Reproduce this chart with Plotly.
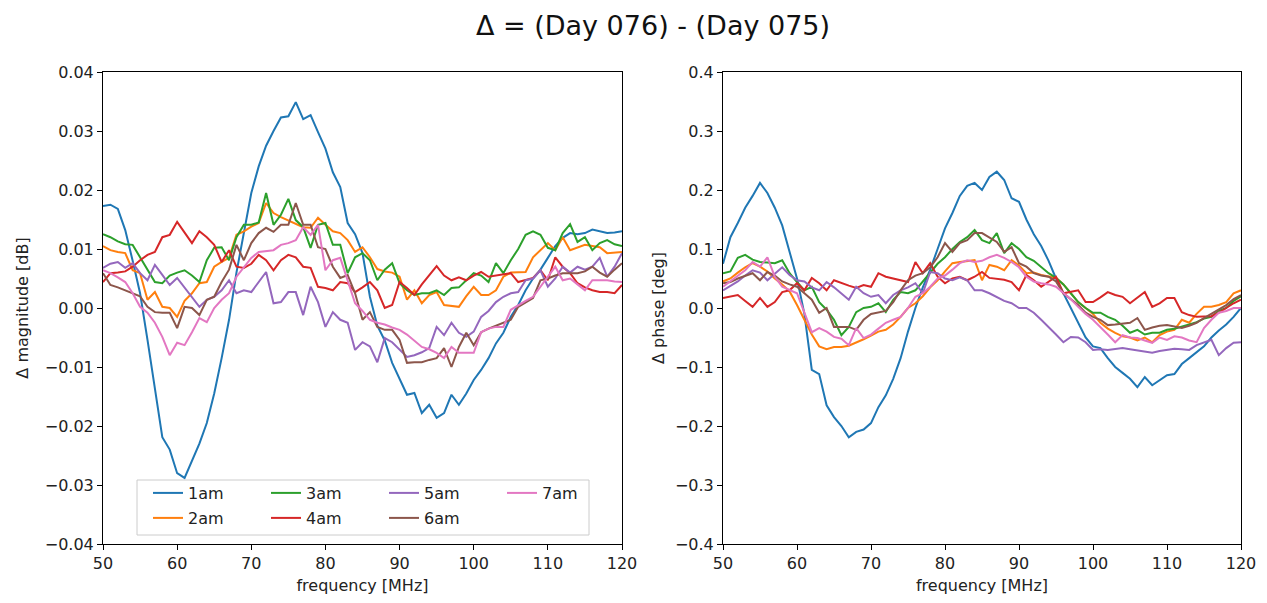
import plotly.graph_objects as go
from plotly.subplots import make_subplots

freq = list(range(50, 121))
labels = ["1am", "2am", "3am", "4am", "5am", "6am", "7am"]
colors = ["#1f77b4", "#ff7f0e", "#2ca02c", "#d62728", "#9467bd", "#8c564b", "#e377c2"]

# Δ magnitude [dB]
mag_1am = [0.0173, 0.0175, 0.0168, 0.0132, 0.008, 0.0025, -0.0054, -0.0135, -0.0219, -0.024,
           -0.028, -0.0288, -0.026, -0.023, -0.0195, -0.0145, -0.0085, -0.002, 0.006, 0.0125,
           0.0195, 0.024, 0.0275, 0.03, 0.0323, 0.0325, 0.0349, 0.032, 0.0327, 0.0298,
           0.027, 0.023, 0.0205, 0.0144, 0.0125, 0.0093, 0.0019, -0.003, -0.0055, -0.0093,
           -0.012, -0.0147, -0.0144, -0.0178, -0.0164, -0.0186, -0.0178, -0.0147, -0.0164, -0.0145,
           -0.0122, -0.0105, -0.0085, -0.006, -0.0042, -0.0015, 0.0005, 0.003, 0.005, 0.0065,
           0.0085, 0.0105, 0.0119, 0.0127, 0.0125, 0.0127, 0.0133, 0.013, 0.0127, 0.0128, 0.013]
mag_2am = [0.0105, 0.0098, 0.0095, 0.0093, 0.0064, 0.0059, 0.0014, 0.0027, 0.0002, 0.0,
           -0.0015, 0.0012, 0.0025, 0.0042, 0.0044, 0.007, 0.0078, 0.0085, 0.0124, 0.013,
           0.0138, 0.0144, 0.0178, 0.0161, 0.0154, 0.0148, 0.0142, 0.0137, 0.0136, 0.0153,
           0.0141, 0.013, 0.0127, 0.0115, 0.0095, 0.0103, 0.0086, 0.0066, 0.0062, 0.006,
           0.0053, 0.0014, 0.003, 0.0008, 0.0022, 0.0027, 0.0005, 0.0003, 0.0002, 0.002,
           0.0036, 0.0022, 0.0022, 0.003, 0.0053, 0.006, 0.0061, 0.0061, 0.0086, 0.0098,
           0.011, 0.0098, 0.012, 0.0098, 0.0102, 0.0107, 0.0105, 0.0103, 0.0093, 0.0094, 0.0095]
mag_3am = [0.0125, 0.012, 0.0113, 0.0108, 0.0107, 0.0086, 0.0064, 0.0044, 0.0042, 0.0055,
           0.006, 0.0064, 0.0055, 0.0044, 0.0081, 0.0102, 0.0103, 0.0081, 0.012, 0.0141,
           0.0141, 0.0145, 0.0195, 0.0141, 0.0158, 0.0185, 0.0149, 0.0137, 0.0102, 0.0141,
           0.0144, 0.0107, 0.0107, 0.0059, 0.0086, 0.0093, 0.0081, 0.0047, 0.0065, 0.0076,
           0.0042, 0.003, 0.0022, 0.0025, 0.0025, 0.003, 0.0022, 0.0034, 0.0035, 0.0047,
           0.0059, 0.0055, 0.0044, 0.0076, 0.0059, 0.0081, 0.01, 0.0124, 0.013, 0.0124,
           0.0102, 0.0098, 0.0127, 0.0142, 0.0112, 0.012, 0.0098, 0.011, 0.0115, 0.0108, 0.0105]
mag_4am = [0.0044, 0.0059, 0.006, 0.0062, 0.007, 0.0081, 0.009, 0.0095, 0.012, 0.0124,
           0.0146, 0.0129, 0.011, 0.013, 0.012, 0.0107, 0.0078, 0.0098, 0.007, 0.0068,
           0.0075, 0.009, 0.0081, 0.0064, 0.0081, 0.009, 0.0086, 0.007, 0.0068, 0.0036,
           0.0034, 0.003, 0.0044, 0.0042, 0.0027, 0.0035, 0.0044, 0.003, 0.0, 0.0005,
           0.0044, 0.0034, 0.0022, 0.004, 0.0055, 0.0071, 0.0055, 0.0047, 0.0052, 0.0047,
           0.0055, 0.0061, 0.0053, 0.0055, 0.0057, 0.0059, 0.0044, 0.0048, 0.0051, 0.0064,
           0.0047, 0.0086, 0.007, 0.0059, 0.0042, 0.0035, 0.003, 0.0027, 0.0027, 0.0025, 0.0039]
mag_5am = [0.0068, 0.0075, 0.0078, 0.0068, 0.0076, 0.0059, 0.0047, 0.0073, 0.0056, 0.0039,
           0.0051, 0.0035, 0.0019, 0.0002, 0.0014, 0.0019, 0.003, 0.0047, 0.0025, 0.003,
           0.0027, 0.0044, 0.0061, 0.0008, 0.001, 0.0027, 0.0027, -0.0012, 0.0036, 0.001,
           -0.0032, -0.0007, -0.002, -0.0025, -0.0071, -0.0058, -0.0065, -0.0092, -0.0051, -0.0058,
           -0.007, -0.0083, -0.008, -0.0075, -0.0068, -0.0032, -0.0046, -0.0025, -0.0042, -0.0049,
           -0.004, -0.0015, -0.0005, 0.001, 0.0019, 0.0025, 0.0027, 0.0047, 0.005, 0.0064,
           0.0036, 0.005, 0.007, 0.006, 0.007, 0.0065, 0.007, 0.0085, 0.0053, 0.007, 0.0093]
mag_6am = [0.0059, 0.0039, 0.0035, 0.003, 0.0025, 0.002, 0.0002, -0.0007, -0.0008, -0.0008,
           -0.0034, 0.0002, 0.0, -0.0012, 0.0014, 0.0019, 0.0044, 0.0065, 0.0107, 0.0081,
           0.011, 0.0127, 0.0136, 0.0129, 0.0141, 0.0141, 0.0178, 0.0141, 0.0141, 0.0103,
           0.01, 0.007, 0.0051, 0.0056, 0.0025, -0.002, -0.0007, -0.0032, -0.0037, -0.0037,
           -0.0054, -0.0093, -0.0092, -0.0092, -0.0088, -0.0085, -0.0068, -0.01, -0.0066, -0.0042,
           -0.0063, -0.0041, -0.0035, -0.003, -0.0024, -0.002, 0.0002, 0.001, 0.0017, 0.0047,
           0.005, 0.0055, 0.0059, 0.0059, 0.0059, 0.0062, 0.007, 0.006, 0.0053, 0.0065, 0.0076]
mag_7am = [0.0064, 0.0059, 0.0052, 0.0044, 0.0025, 0.0002, -0.0008, -0.0025, -0.0049, -0.008,
           -0.0059, -0.0063, -0.0041, -0.0017, -0.0024, 0.0, 0.0014, 0.0025, 0.0053, 0.007,
           0.0085, 0.0095, 0.0097, 0.0098, 0.0107, 0.011, 0.0115, 0.0137, 0.0124, 0.0141,
           0.0064, 0.0081, 0.0085, 0.0047, 0.0008, -0.0005, -0.002, -0.0025, -0.0028, -0.0033,
           -0.0037, -0.0045, -0.0055, -0.0066, -0.007, -0.0076, -0.0085, -0.0066, -0.0076, -0.0076,
           -0.0076, -0.0041, -0.0035, -0.0032, -0.0032, -0.0003, 0.0005, 0.0012, 0.0019, 0.0036,
           0.0055, 0.007, 0.0047, 0.005, 0.004, 0.003, 0.0047, 0.0047, 0.0047, 0.0045, 0.0044]

# Δ phase [deg]
ph_1am = [0.075, 0.12, 0.144, 0.17, 0.19, 0.212, 0.195, 0.17, 0.14, 0.095,
          0.05, -0.01, -0.105, -0.112, -0.165, -0.185, -0.2, -0.219, -0.21, -0.206,
          -0.195, -0.168, -0.148, -0.12, -0.085, -0.04, 0.0, 0.035, 0.065, 0.1,
          0.135, 0.161, 0.19, 0.207, 0.212, 0.2, 0.222, 0.231, 0.217, 0.186,
          0.18, 0.15, 0.125, 0.105, 0.08, 0.05, 0.025, 0.0, -0.025, -0.05,
          -0.065, -0.068, -0.085, -0.1, -0.11, -0.12, -0.134, -0.117, -0.131, -0.122,
          -0.114, -0.112, -0.095, -0.085, -0.075, -0.065, -0.05, -0.038, -0.028, -0.015, 0.0]
ph_2am = [0.045, 0.05, 0.06, 0.069, 0.076, 0.07, 0.062, 0.05, 0.04, 0.028,
          0.005, -0.02, -0.045, -0.065, -0.07, -0.066, -0.066, -0.064, -0.059, -0.053,
          -0.047, -0.04, -0.037, -0.028, -0.015, 0.0, 0.008, 0.02, 0.035, 0.047,
          0.062, 0.076, 0.078, 0.08, 0.081, 0.047, 0.073, 0.07, 0.064, 0.081,
          0.072, 0.059, 0.06, 0.056, 0.053, 0.051, 0.04, 0.025, 0.01, 0.0,
          -0.01, -0.025, -0.035, -0.042, -0.048, -0.05, -0.055, -0.05, -0.058, -0.046,
          -0.04, -0.037, -0.02, -0.025, -0.01, 0.002, 0.002, 0.005, 0.01, 0.025, 0.03]
ph_3am = [0.059, 0.062, 0.085, 0.09, 0.082, 0.078, 0.077, 0.076, 0.081, 0.059,
          0.044, 0.03, 0.036, 0.01, -0.003, -0.02, -0.046, -0.032, -0.007, 0.0,
          0.002, 0.008, -0.007, 0.014, 0.027, 0.025, 0.03, 0.045, 0.059, 0.075,
          0.086, 0.1, 0.112, 0.12, 0.132, 0.115, 0.11, 0.127, 0.093, 0.11,
          0.1, 0.086, 0.08, 0.07, 0.059, 0.051, 0.04, 0.025, 0.01, 0.0,
          -0.008, -0.008, -0.015, -0.02, -0.03, -0.042, -0.037, -0.045, -0.042, -0.042,
          -0.037, -0.035, -0.032, -0.028, -0.024, -0.018, -0.015, -0.005, 0.0, 0.012, 0.02]
ph_4am = [0.017, 0.02, 0.022, 0.012, 0.002, 0.017, 0.002, 0.01, 0.027, 0.03,
          0.042, 0.03, 0.051, 0.042, 0.03, 0.047, 0.042, 0.038, 0.034, 0.039,
          0.036, 0.059, 0.053, 0.05, 0.047, 0.044, 0.078, 0.059, 0.076, 0.053,
          0.042, 0.05, 0.053, 0.047, 0.053, 0.061, 0.051, 0.05, 0.048, 0.044,
          0.03, 0.056, 0.047, 0.036, 0.045, 0.053, 0.025, 0.028, 0.03, 0.01,
          0.01, 0.018, 0.027, 0.022, 0.019, 0.008, 0.018, 0.027, 0.002, 0.008,
          0.017, 0.017, -0.007, -0.012, -0.015, -0.015, -0.014, -0.008, 0.0, 0.008, 0.014]
ph_5am = [0.03, 0.038, 0.045, 0.055, 0.064, 0.06, 0.047, 0.058, 0.069, 0.056,
          0.047, 0.045, 0.035, 0.03, 0.044, 0.035, 0.025, 0.014, 0.036, 0.025,
          0.019, 0.022, 0.008, 0.022, 0.03, 0.035, 0.042, 0.025, 0.061, 0.059,
          0.05, 0.047, 0.052, 0.047, 0.03, 0.03, 0.025, 0.019, 0.012, 0.008,
          0.0, 0.0, -0.008, -0.02, -0.032, -0.045, -0.058, -0.049, -0.05, -0.058,
          -0.071, -0.07, -0.071, -0.07, -0.068, -0.07, -0.072, -0.074, -0.076, -0.073,
          -0.071, -0.069, -0.07, -0.071, -0.063, -0.058, -0.054, -0.08, -0.068, -0.059, -0.058]
ph_6am = [0.042, 0.044, 0.05, 0.055, 0.059, 0.047, 0.061, 0.055, 0.045, 0.04,
          0.036, 0.025, 0.014, -0.008, 0.0, -0.032, -0.032, -0.032, -0.037, -0.02,
          -0.01, -0.008, -0.005, 0.01, 0.03, 0.047, 0.055, 0.059, 0.069, 0.086,
          0.11, 0.095, 0.11, 0.115, 0.127, 0.127, 0.119, 0.112, 0.095, 0.103,
          0.076, 0.07, 0.059, 0.055, 0.053, 0.045, 0.025, 0.015, 0.005, -0.008,
          -0.015, -0.02, -0.029, -0.028, -0.027, -0.025, -0.017, -0.037, -0.033, -0.03,
          -0.029, -0.032, -0.034, -0.03, -0.025, -0.017, -0.01, -0.003, 0.005, 0.015, 0.022]
ph_7am = [0.036, 0.045, 0.055, 0.064, 0.078, 0.07, 0.086, 0.053, 0.036, 0.03,
          0.025, -0.008, -0.041, -0.034, -0.04, -0.049, -0.052, -0.063, -0.034, -0.051,
          -0.045, -0.035, -0.025, -0.02, -0.015, 0.0, 0.019, 0.025, 0.036, 0.05,
          0.055, 0.065, 0.076, 0.081, 0.078, 0.08, 0.086, 0.09, 0.085, 0.078,
          0.069, 0.053, 0.045, 0.042, 0.04, 0.036, 0.025, 0.015, 0.002, -0.01,
          -0.02, -0.032, -0.045, -0.058, -0.046, -0.05, -0.051, -0.055, -0.059, -0.05,
          -0.054, -0.048, -0.05, -0.055, -0.058, -0.034, -0.02, -0.008, -0.005, 0.0, 0.0]

mag_series = [mag_1am, mag_2am, mag_3am, mag_4am, mag_5am, mag_6am, mag_7am]
ph_series = [ph_1am, ph_2am, ph_3am, ph_4am, ph_5am, ph_6am, ph_7am]

# legend rows (matplotlib column-major layout): row 1 = 1am,3am,5am,7am; row 2 = 2am,4am,6am
legend_of = ["legend", "legend2", "legend", "legend2", "legend", "legend2", "legend"]

x_ticks = [50, 60, 70, 80, 90, 100, 110, 120]
mag_ticks = [0.04, 0.03, 0.02, 0.01, 0.0, -0.01, -0.02, -0.03, -0.04]
mag_ticktext = ["0.04", "0.03", "0.02", "0.01", "0.00", "\u22120.01", "\u22120.02", "\u22120.03", "\u22120.04"]
ph_ticks = [0.4, 0.3, 0.2, 0.1, 0.0, -0.1, -0.2, -0.3, -0.4]
ph_ticktext = ["0.4", "0.3", "0.2", "0.1", "0.0", "\u22120.1", "\u22120.2", "\u22120.3", "\u22120.4"]

# page body has an 8px margin; figure is laid out in screen pixels minus that offset
OFF = 8
W, H = 1267 - OFF, 603 - OFF
ml, mt = 103 - OFF, 72 - OFF
mr = W - (1241 - OFF)
mb = H - (544 - OFF)
pw = W - ml - mr
ph = H - mt - mb
left_dom = [0, (622 - 103) / pw]
right_dom = [(723 - 103) / pw, 1]


def px_x(p):
    return (p - OFF - ml) / pw


def px_y(p):
    return (H - mb - (p - OFF)) / ph


fig = make_subplots(rows=1, cols=2)
for i, lab in enumerate(labels):
    fig.add_trace(go.Scatter(x=freq, y=mag_series[i], mode="lines", name=lab,
                             line=dict(color=colors[i], width=2),
                             legend=legend_of[i], showlegend=True), row=1, col=1)
for i, lab in enumerate(labels):
    fig.add_trace(go.Scatter(x=freq, y=ph_series[i], mode="lines", name=lab,
                             line=dict(color=colors[i], width=2),
                             showlegend=False), row=1, col=2)

font = "DejaVu Sans"
axis_common = dict(showline=True, mirror=True, linecolor="black", linewidth=1,
                   ticks="outside", ticklen=5, tickwidth=1, tickcolor="black",
                   showgrid=False, zeroline=False, automargin=False,
                   tickfont=dict(family=font, size=16, color="#222"))
title_font = dict(family=font, size=16, color="#222")

fig.update_xaxes(range=[50, 120], tickvals=x_ticks, domain=left_dom,
                 title=dict(text="frequency [MHz]", font=title_font, standoff=7),
                 row=1, col=1, **axis_common)
fig.update_xaxes(range=[50, 120], tickvals=x_ticks, domain=right_dom,
                 title=dict(text="frequency [MHz]", font=title_font, standoff=7),
                 row=1, col=2, **axis_common)
fig.update_yaxes(range=[-0.04, 0.04], tickvals=mag_ticks, ticktext=mag_ticktext,
                 title=dict(text="\u0394 magnitude [dB]", font=title_font, standoff=12),
                 row=1, col=1, **axis_common)
fig.update_yaxes(range=[-0.4, 0.4], tickvals=ph_ticks, ticktext=ph_ticktext,
                 title=dict(text="\u0394 phase [deg]", font=title_font, standoff=6),
                 row=1, col=2, **axis_common)

legend_common = dict(orientation="h", xanchor="left", yanchor="middle",
                     bgcolor="rgba(0,0,0,0)", borderwidth=0,
                     font=dict(family=font, size=16, color="#222"),
                     entrywidth=73, traceorder="normal")

fig.update_layout(
    width=W, height=H,
    margin=dict(l=ml, r=mr, t=mt, b=mb),
    paper_bgcolor="white", plot_bgcolor="white",
    font=dict(family=font, size=16, color="#222"),
    title=dict(text="\u0394 = (Day 076) - (Day 075)", x=(653 - OFF) / W, xanchor="center",
               y=1 - (26 - OFF) / H, yanchor="middle", font=dict(family=font, size=27, color="#111")),
    legend=dict(x=px_x(148), y=px_y(493), **legend_common),
    legend2=dict(x=px_x(148), y=px_y(518), **legend_common),
    shapes=[dict(type="rect", xref="paper", yref="paper",
                 x0=px_x(137), x1=px_x(589), y0=px_y(535), y1=px_y(480),
                 line=dict(color="#cccccc", width=1),
                 fillcolor="rgba(255,255,255,0.8)", layer="above")],
)

fig.write_html("out.html")
